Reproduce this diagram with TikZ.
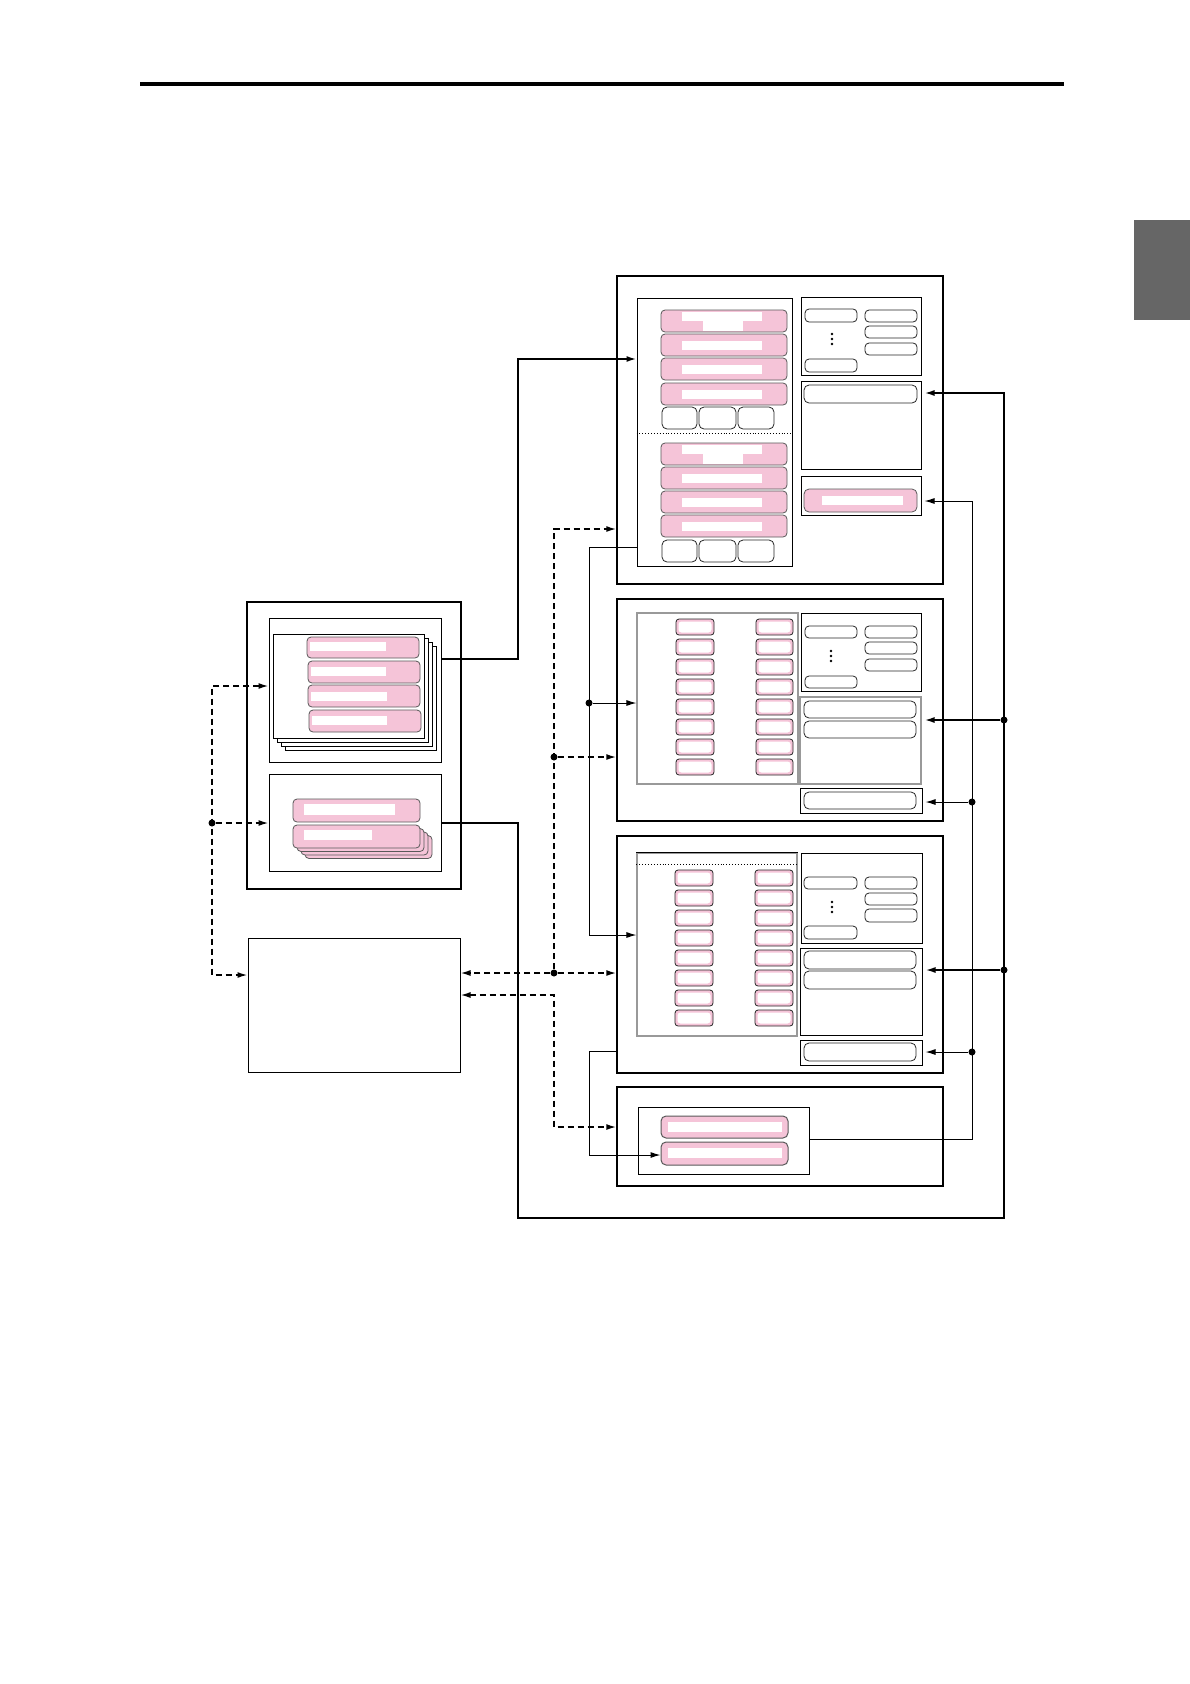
\documentclass[tikz,border=0pt]{standalone}
\usepackage{xcolor}
\usepackage{tikz}
\usetikzlibrary{
    arrows.meta,
    positioning,
    fit,
    calc
}
\definecolor{barpink}{RGB}{245,196,216}
\definecolor{tabgray}{RGB}{102,102,102}

\begin{document}
\begin{tikzpicture}[
    x=1pt, y=-1pt,
    unitbox/.style={draw, line width=1.4pt, inner sep=0pt},
    panel/.style={draw, line width=1pt, inner sep=0pt},
    softpanel/.style={draw=black!40, line width=1.1pt, inner sep=0pt},
    pinkbar/.style={
        draw=black!65,
        fill=barpink,
        rounded corners=4pt,
        line width=0.8pt,
        inner sep=0pt
    },
    slot/.style={draw=black!85, fill=white, rounded corners=5pt, line width=0.8pt, inner sep=0pt},
    chip/.style={
        draw=black!85,
        fill=barpink,
        rounded corners=3pt,
        line width=0.8pt,
        inner sep=0pt,
        path picture={\fill[white] ([xshift=2.5pt,yshift=-2.5pt]path picture bounding box.north west)
            rectangle ([xshift=-2.5pt,yshift=2.5pt]path picture bounding box.south east);}
    },
    sheetbox/.style={draw, fill=white, line width=0.9pt, inner sep=0pt},
    junction/.style={circle, fill, inner sep=0pt, minimum size=7pt},
    wire/.style={line width=1pt},
    heavy/.style={line width=1.8pt},
    dashwire/.style={line width=1.6pt, dash pattern=on 6pt off 4pt},
    arr/.style={-{Latex[length=10pt,width=6pt]}},
    arrs/.style={{Latex[length=10pt,width=6pt]}-{Latex[length=10pt,width=6pt]}}
]

\useasboundingbox (0,0) rectangle (1190,1684);

% page rule and side tab
\draw[line width=4pt] (140,84) -- (1064,84);
\fill[tabgray] (1134,220) rectangle (1190,320);

% ---- unit A
\node[unitbox, fit={(617,276) (943,584)}] (A) {};
\node[panel, fit={(637,298) (792,566)}] (Apan) {};
\node[panel, fit={(801,297) (921,375)}] (AR1) {};
\node[panel, fit={(801,381) (921,469)}] (AR2) {};
\node[panel, fit={(801,476) (921,515)}] (AR3) {};

\foreach \yy in {310,443} {
    \node[pinkbar, fit={(661,\yy) (787,{\yy+22})}] (ah\yy) {};
    \fill[white] (682,{\yy+1.5}) rectangle (762,{\yy+11});
    \fill[white] (703,{\yy+11}) rectangle (743,{\yy+20.5});
}
\foreach \yy in {334,358,383,467,491,515} {
    \node[pinkbar, fit={(661,\yy) (787,{\yy+22})}] (ab\yy) {};
    \fill[white] (682,{\yy+7}) rectangle (762,{\yy+16});
}
\foreach \yy in {407,540}
    \foreach \xa/\xb in {662/697,699/736,738/774}
        \node[slot, fit={(\xa,\yy) (\xb,{\yy+22})}] (as\xa-\yy) {};
\draw[dotted, line width=0.9pt] (Apan.west |- 0,433) -- (Apan.east |- 0,433);

\node[slot, rounded corners=4pt, fit={(805,309) (857,322)}] (a1l) {};
\node[slot, rounded corners=4pt, fit={(865,310) (917,322)}] (a1r) {};
\node[slot, rounded corners=4pt, fit={(865,326) (917,338)}] (a2r) {};
\node[slot, rounded corners=4pt, fit={(865,343) (917,355)}] (a3r) {};
\node[slot, rounded corners=4pt, fit={(805,359) (857,372)}] (a4l) {};
\foreach \yy in {334,339,344} \fill (832,\yy) circle (1.3pt);
\node[slot, fit={(804,385) (917,403)}] (a5) {};
\node[pinkbar, rounded corners=5pt, fit={(804,489) (917,512)}] (a6) {};
\fill[white] (822,496) rectangle (903,505);

% ---- unit B
\node[unitbox, fit={(617,599) (943,821)}] (B) {};
\node[softpanel, fit={(637,613) (798,784)}] (Bpan) {};
\node[panel, fit={(801,613) (921,691)}] (BR1) {};
\node[softpanel, fit={(800,697) (921,784)}] (BR2) {};
\node[panel, fit={(800,788) (922,813)}] (BR3) {};
\foreach \i in {0,...,7} {
    \node[chip, fit={(676,{619+20*\i}) (714,{635+20*\i})}] (bl\i) {};
    \node[chip, fit={(756,{619+20*\i}) (793,{635+20*\i})}] (br\i) {};
}
\node[slot, rounded corners=4pt, fit={(805,626) (857,638)}] (b1l) {};
\node[slot, rounded corners=4pt, fit={(865,626) (917,638)}] (b1r) {};
\node[slot, rounded corners=4pt, fit={(865,642) (917,654)}] (b2r) {};
\node[slot, rounded corners=4pt, fit={(865,659) (917,671)}] (b3r) {};
\node[slot, rounded corners=4pt, fit={(805,676) (857,688)}] (b4l) {};
\foreach \yy in {651,656,661} \fill (831,\yy) circle (1.3pt);
\node[slot, fit={(804,701) (916,718)}] (b5) {};
\node[slot, fit={(804,721) (916,738)}] (b6) {};
\node[slot, fit={(804,792) (916,809)}] (b7) {};

% ---- unit C
\node[unitbox, fit={(617,836) (943,1073)}] (C) {};
\node[softpanel, fit={(637,853) (797,1036)}] (Cpan) {};
\draw[line width=1pt] (Cpan.north west) -- (Cpan.north east);
\draw[dotted, line width=0.9pt] (Cpan.west |- 0,864) -- (Cpan.east |- 0,864);
\node[panel, fit={(801,853) (922,943)}] (CR1) {};
\node[panel, fit={(800,948) (922,1035)}] (CR2) {};
\node[panel, fit={(800,1040) (922,1065)}] (CR3) {};
\foreach \i in {0,...,7} {
    \node[chip, fit={(675,{870+20*\i}) (713,{886+20*\i})}] (cl\i) {};
    \node[chip, fit={(755,{870+20*\i}) (793,{886+20*\i})}] (cr\i) {};
}
\node[slot, rounded corners=4pt, fit={(804,877) (857,889)}] (c1l) {};
\node[slot, rounded corners=4pt, fit={(865,877) (917,889)}] (c1r) {};
\node[slot, rounded corners=4pt, fit={(865,893) (917,905)}] (c2r) {};
\node[slot, rounded corners=4pt, fit={(865,909) (917,922)}] (c3r) {};
\node[slot, rounded corners=4pt, fit={(804,926) (857,939)}] (c4l) {};
\foreach \yy in {902,907,912} \fill (832,\yy) circle (1.3pt);
\node[slot, fit={(804,951) (916,969)}] (c5) {};
\node[slot, fit={(804,971) (916,989)}] (c6) {};
\node[slot, fit={(804,1043) (916,1061)}] (c7) {};

% ---- unit D
\node[unitbox, fit={(617,1087) (943,1186)}] (D) {};
\node[panel, fit={(638,1107) (809,1174)}] (Dpan) {};
\node[pinkbar, line width=1pt, rounded corners=5pt, fit={(661,1116) (788,1138)}] (Dbar1) {};
\node[pinkbar, line width=1pt, rounded corners=5pt, fit={(661,1142) (788,1165)}] (Dbar2) {};
\fill[white] (668,1122) rectangle (782,1132);
\fill[white] (668,1148) rectangle (782,1158);

% ---- left store
\node[unitbox, fit={(247,602) (461,889)}] (L1) {};
\node[panel, fit={(269,618) (441,762)}] (L1t) {};
\node[panel, fit={(269,774) (441,871)}] (L1b) {};
\foreach \k in {3,2,1}
    \node[sheetbox, fit={({273+4*\k},{634+4*\k}) ({424+4*\k},{738+4*\k})}] (pg\k) {};
\node[sheetbox, fit={(273,634) (424,738)}] (pg0) {};
\node[pinkbar, fit={(307,637) (419,658)}] (lp1) {};
\node[pinkbar, fit={(308,661) (420,683)}] (lp2) {};
\node[pinkbar, fit={(308,685) (420,707)}] (lp3) {};
\node[pinkbar, fit={(309,710) (421,732)}] (lp4) {};
\fill[white] (310,642) rectangle (386,651);
\fill[white] (311,667) rectangle (386,676);
\fill[white] (311,692) rectangle (387,701);
\fill[white] (312,716) rectangle (387,725);

\node[pinkbar, fit={(293,799) (420,822)}] (lq1) {};
\fill[white] (304,804) rectangle (395,815);
\foreach \k in {3,2,1}
    \node[pinkbar, fit={({293+4*\k},{825+3.5*\k}) ({420+4*\k},{848+3.5*\k})}] (lq\k b) {};
\node[pinkbar, fit={(293,825) (420,848)}] (lq2) {};
\fill[white] (304,830) rectangle (372,840);

\node[panel, fit={(248,938) (460,1072)}] (L2) {};

% ---- solid links
\coordinate (s1) at (518,659);
\coordinate (s1top) at (518,359);
\draw[heavy, arr] (L1t.east |- s1) -- (s1) -- (s1top) -- (Apan.west |- s1top);

\coordinate (s2) at (518,823);
\coordinate (s2bot) at (518,1218);
\coordinate (r2bot) at (1004,1218);
\coordinate (r2top) at (1004,393);
\draw[heavy, arr, shorten >=3pt] (L1b.east |- s2) -- (s2) -- (s2bot) -- (r2bot) -- (r2top) -- (AR2.east |- r2top);
\node[junction] (jr1) at (1004,720) {};
\node[junction] (jr2) at (1004,970) {};
\draw[heavy, arr, shorten >=3pt] (jr1) -- (BR2.east |- jr1);
\draw[heavy, arr, shorten >=3pt] (jr2) -- (CR2.east |- jr2);

\coordinate (t1bot) at (972,1139);
\coordinate (t1top) at (972,501);
\draw[wire, arr, shorten >=3pt] (Dpan.east |- t1bot) -- (t1bot) -- (t1top) -- (AR3.east |- t1top);
\node[junction] (jt1) at (972,802) {};
\node[junction] (jt2) at (972,1052) {};
\draw[wire, arr, shorten >=3pt] (jt1) -- (BR3.east |- jt1);
\draw[wire, arr, shorten >=3pt] (jt2) -- (CR3.east |- jt2);

\coordinate (m1) at (589,547);
\coordinate (m1bot) at (589,935);
\draw[wire, arr] (Apan.west |- m1) -- (m1) -- (m1bot) -- (Cpan.west |- m1bot);
\node[junction] (jm1) at (589,703) {};
\draw[wire, arr] (jm1) -- (Bpan.west |- jm1);

\coordinate (m2) at (589,1051);
\coordinate (m2bot) at (589,1155);
\draw[wire, arr] (C.west |- m2) -- (m2) -- (m2bot) -- (Dbar2.west |- m2bot);

% ---- dashed links
\coordinate (q1) at (554,529);
\node[junction] (jq1) at (554,757) {};
\node[junction] (jq2) at (554,973) {};
\draw[dashwire, arr] (jq2) -- (q1) -- (A.west |- q1);
\draw[dashwire, arr] (jq1) -- (B.west |- jq1);
\draw[dashwire, arr] (jq2) -- (L2.east |- jq2);
\draw[dashwire, arr] (jq2) -- (C.west |- jq2);

\coordinate (q4) at (554,995);
\coordinate (q5) at (554,1127);
\draw[dashwire, arrs] (L2.east |- q4) -- (q4) -- (q5) -- (D.west |- q5);

\coordinate (p1) at (212,686);
\coordinate (p3) at (212,975);
\node[junction] (jp1) at (212,823) {};
\draw[dashwire, arrs] (L1t.west |- p1) -- (p1) -- (p3) -- (L2.west |- p3);
\draw[dashwire, arr] (jp1) -- (L1b.west |- jp1);

\end{tikzpicture}
\end{document}
